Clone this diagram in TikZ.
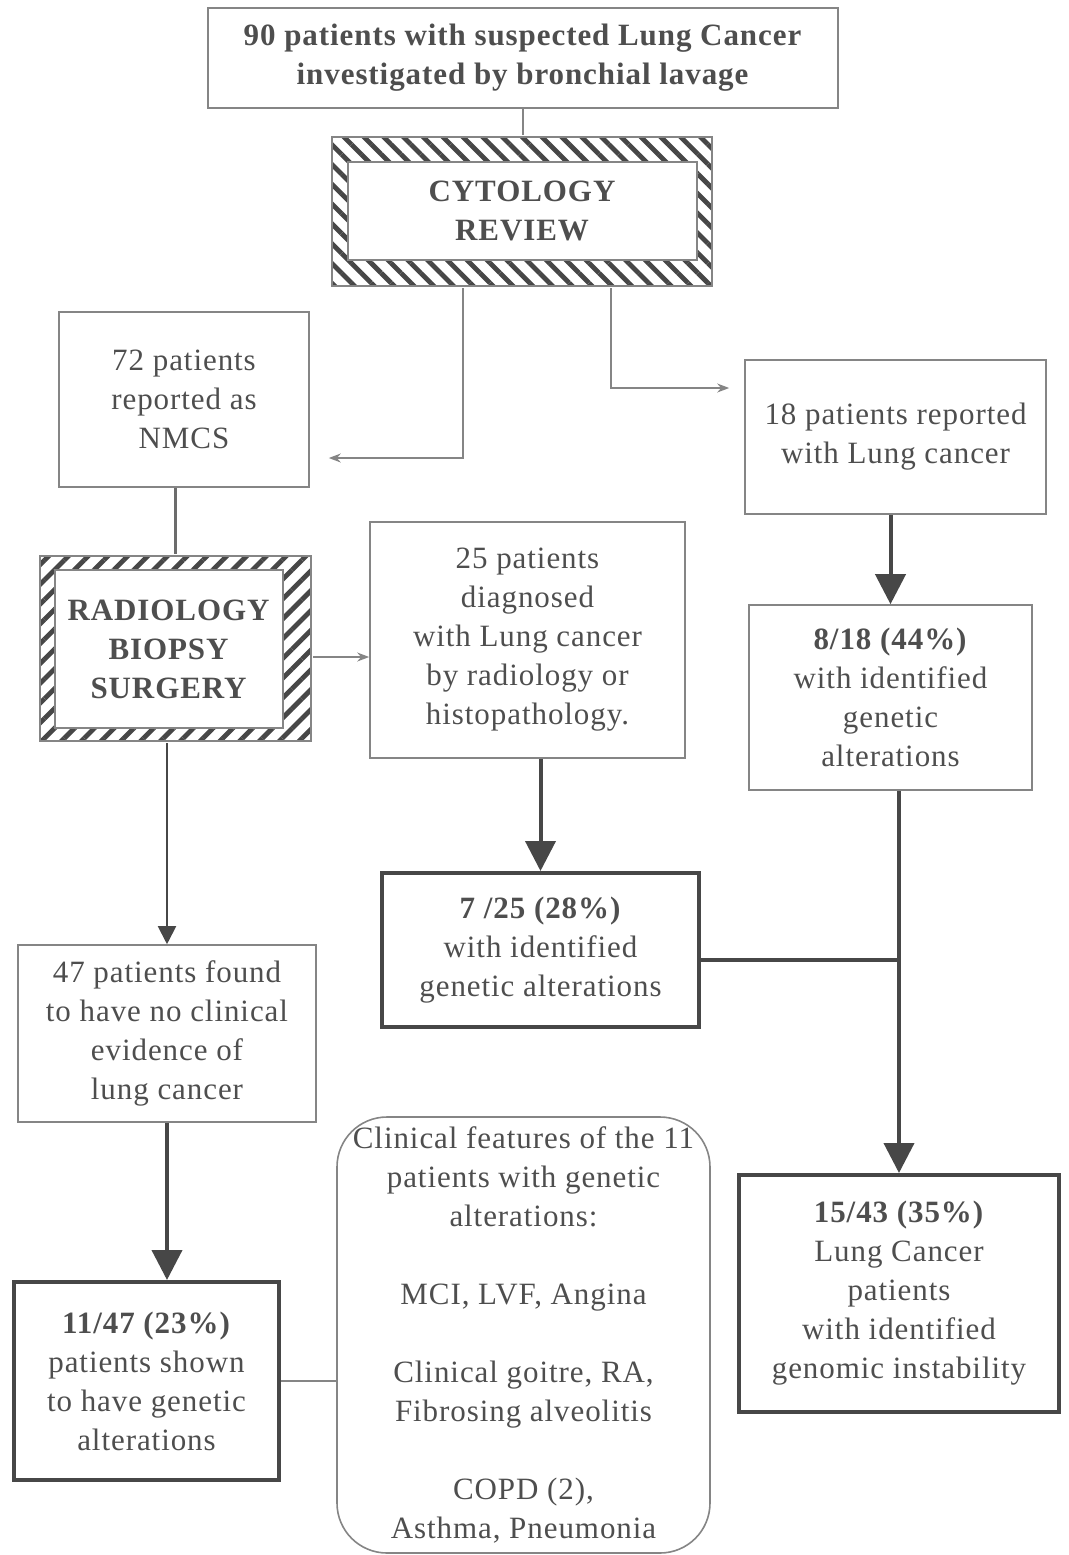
\documentclass[tikz,border=0pt]{standalone}
\usepackage{fontspec}
\setmainfont{Liberation Serif}[LetterSpace=3]
\usepackage{tikz}
\usetikzlibrary{arrows.meta,patterns.meta,calc}

\definecolor{txtgrey}{HTML}{4E4E4E}
\definecolor{linegrey}{HTML}{858585}
\definecolor{darkline}{HTML}{474747}

\begin{document}
\begin{tikzpicture}[x=0.5pt,y=-0.5pt,
		every node/.style={font=\fontsize{15.5}{19.5}\selectfont, text=txtgrey, align=center, inner sep=0pt},
		box/.style={draw=linegrey, line width=0.8pt, rectangle},
		bigbox/.style={draw=darkline, line width=2pt, rectangle},
		hatchl/.style={draw=linegrey, line width=0.8pt, pattern={Lines[angle=-45,distance=7pt,line width=2.4pt]}, pattern color=darkline},
		hatchr/.style={draw=linegrey, line width=0.8pt, pattern={Lines[angle=45,distance=7pt,line width=2.4pt]}, pattern color=darkline},
		inner/.style={draw=linegrey, line width=0.8pt, fill=white},
		thin/.style={draw=linegrey, line width=0.8pt},
		thinarr/.style={thin, -{Stealth[length=6pt,width=4.5pt]}},
		medarr/.style={draw=darkline, line width=1pt, -{Triangle[length=9pt,width=9pt]}},
		thickarr/.style={draw=darkline, line width=2pt, -{Triangle[length=15pt,width=15pt]}}
	]
	\useasboundingbox (0,0) rectangle (1069,1555);

	\node[box, minimum width=315pt, minimum height=50pt] (top) at (523,58)
		{\textbf{90 patients with suspected Lung Cancer}\\ \textbf{investigated by bronchial lavage}};

	\node[hatchl, minimum width=190pt, minimum height=74.5pt] (cyto) at (522,211.5) {};
	\node[inner, minimum width=174.5pt, minimum height=49pt] (cytoin) at (522.5,211)
		{\textbf{CYTOLOGY}\\ \textbf{REVIEW}};

	\node[box, minimum width=125pt, minimum height=87.5pt] (nmcs) at (184,399.5)
		{72 patients\\ reported as\\ NMCS};
	\node[box, minimum width=150.5pt, minimum height=77pt] (lc18) at (895.5,437)
		{18 patients reported\\ with Lung cancer};

	\node[hatchr, minimum width=135.5pt, minimum height=92.5pt] (rbs) at (175.5,648.5) {};
	\node[inner, minimum width=114pt, minimum height=79pt] (rbsin) at (169,649)
		{\textbf{RADIOLOGY}\\ \textbf{BIOPSY}\\ \textbf{SURGERY}};

	\node[box, minimum width=157.5pt, minimum height=118pt] (dx25) at (527.5,640)
		{25 patients\\ diagnosed\\ with Lung cancer\\ by radiology or\\ histopathology.};
	\node[box, minimum width=141.5pt, minimum height=92.5pt] (ga8) at (890.5,697.5)
		{\textbf{8/18 (44\%)}\\ with identified\\ genetic\\ alterations};

	\node[bigbox, minimum width=158.5pt, minimum height=77pt] (ga7) at (540.5,950)
		{\textbf{7 /25 (28\%)}\\ with identified\\ genetic alterations};

	\node[box, minimum width=149pt, minimum height=88.5pt] (noev47) at (167,1033.5)
		{47 patients found\\ to have no clinical\\ evidence of\\ lung cancer};

	\node[bigbox, minimum width=132.5pt, minimum height=99pt] (ga11) at (146.5,1381)
		{\textbf{11/47 (23\%)}\\ patients shown\\ to have genetic\\ alterations};

	\node[thin, rectangle, rounded corners=25pt, minimum width=186.5pt, minimum height=218pt] (clin) at (523.5,1335)
		{Clinical features of the 11\\ patients with genetic\\ alterations:\\[19.5pt]
		MCI, LVF, Angina\\[19.5pt]
		Clinical goitre, RA,\\ Fibrosing alveolitis\\[19.5pt]
		COPD (2),\\ Asthma, Pneumonia};

	\node[bigbox, minimum width=160pt, minimum height=118.5pt] (gi15) at (899,1293.5)
		{\textbf{15/43 (35\%)}\\ Lung Cancer\\ patients\\ with identified\\ genomic instability};

	\draw[thin] (top.south) -- (top.south |- cyto.north);
	\draw[thinarr] ([xshift=-29.5pt]cyto.south) |- ([xshift=9.5pt,yshift=-29.25pt]nmcs.east);
	\draw[thinarr] ([xshift=44.5pt]cyto.south) |- ([xshift=-7.5pt,yshift=24.5pt]lc18.west);
	\draw[thin, line width=1.2pt, draw=darkline!80] (rbs.north) -- (rbs.north |- nmcs.south);
	\draw[thinarr] ([yshift=-4.25pt]rbs.east) -- ([yshift=-4.25pt]rbs.east -| dx25.west);
	\draw[thickarr] (lc18.south -| ga8.north) -- (ga8.north);
	\draw[thickarr] (dx25.south -| ga7.north) -- (ga7.north);
	\draw[thickarr] (ga8.south -| gi15.north) -- (gi15.north);
	\draw[draw=darkline, line width=2pt] ([yshift=-5pt]ga7.east) -- ([yshift=-5pt]ga7.east -| gi15.north);
	\draw[medarr] (noev47.north |- rbs.south) -- (noev47.north);
	\draw[thickarr] (noev47.south) -- (noev47.south |- ga11.north);
	\draw[thin] (ga11.east) -- (ga11.east -| clin.west);
\end{tikzpicture}
\end{document}
